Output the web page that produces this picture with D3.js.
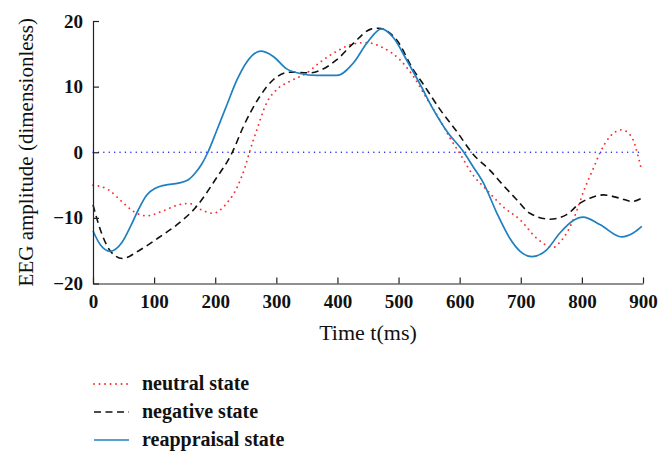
<!DOCTYPE html>
<html>
<head>
<meta charset="utf-8">
<script src="https://cdn.jsdelivr.net/npm/d3@7"></script>
<style>
  body { margin: 0; background: #fff; }
  svg { display: block; }
</style>
</head>
<body>
<svg id="chart" width="672" height="464"></svg>
<script>
// ---- data ----
const xTicks = [0, 100, 200, 300, 400, 500, 600, 700, 800, 900];
const yTicks = [-20, -10, 0, 10, 20];

const neutralT = [0, 25, 47, 66, 88, 113, 140, 157, 178, 196, 219, 236, 249, 256, 268, 284, 300, 322, 350, 370, 399, 426, 448, 475, 502, 524, 546, 566, 584, 599, 622, 644, 671, 699, 726, 753, 764, 777, 788, 803, 819, 830, 846, 865, 881, 892, 898];
const neutralV = [-5.0, -5.7, -7.5, -9.0, -9.7, -9.0, -8.0, -7.8, -8.8, -9.3, -7.75, -5.3, -2.2, 0, 3.4, 7.5, 9.5, 10.8, 12.1, 13.6, 15.4, 16.5, 16.7, 15.9, 14.1, 11.6, 8.2, 5.2, 2.2, 0, -3.5, -5.7, -8.3, -10.3, -13.1, -14.5, -13.7, -12.0, -9.8, -5.9, -2.4, 0, 2.4, 3.4, 2.4, -0.6, -2.9];

const negativeT = [0, 12, 28, 48, 75, 106, 138, 170, 200, 228, 246, 273, 295, 322, 355, 372, 399, 426, 456, 467, 497, 524, 541, 568, 595, 622, 650, 671, 693, 715, 748, 775, 797, 813, 835, 862, 882, 898];
const negativeV = [-8.0, -11.8, -15.0, -16.2, -15.0, -13.1, -11.0, -8.2, -4.2, 0, 3.9, 8.5, 11.05, 12.2, 12.1, 12.5, 14.1, 16.6, 18.8, 18.9, 17.1, 12.6, 10.3, 6.5, 3.2, -0.3, -2.8, -5.0, -7.2, -9.3, -10.2, -9.5, -7.75, -7.0, -6.5, -7.0, -7.5, -7.0];

const reappraisalT = [0, 12, 28, 47, 63, 74, 88, 102, 118, 140, 156, 167, 178, 188, 202, 219, 235, 252, 274, 295, 317, 339, 366, 399, 426, 448, 472, 492, 513, 535, 557, 579, 606, 622, 639, 661, 682, 699, 718, 742, 764, 786, 802, 830, 865, 884, 898];
const reappraisalV = [-12.0, -14.1, -15.1, -13.8, -11.0, -8.8, -6.5, -5.5, -5.0, -4.7, -4.2, -3.2, -1.8, 0, 3.2, 7.2, 10.9, 13.8, 15.4, 14.6, 12.7, 12.0, 11.7, 11.7, 13.6, 16.6, 18.8, 17.4, 14.1, 10.4, 6.5, 3.2, 0.1, -2.2, -4.7, -9.3, -13.1, -15.1, -15.9, -14.9, -12.3, -10.4, -9.9, -11.05, -12.9, -12.3, -11.3];

const seriesNames = ["neutral state", "negative state", "reappraisal state"];

// ---- setup ----
const svg = d3.select("#chart");
const x = d3.scaleLinear().domain([0, 900]).range([93, 643]);
const y = d3.scaleLinear().domain([-20, 20]).range([283.5, 21]);

const series = [
  { name: seriesNames[0], t: neutralT, v: neutralV, color: "#ff2a2a", dash: "0.1,5.4", width: 1.8, cap: "round" },
  { name: seriesNames[1], t: negativeT, v: negativeV, color: "#111", dash: "7,4.5", width: 1.6, cap: "butt" },
  { name: seriesNames[2], t: reappraisalT, v: reappraisalV, color: "#1f7fc0", dash: null, width: 1.7, cap: "butt" }
];

// zero reference line
svg.append("line")
  .attr("x1", x(0)).attr("x2", x(900))
  .attr("y1", y(0)).attr("y2", y(0))
  .attr("stroke", "#2020ff").attr("stroke-width", 1.4)
  .attr("stroke-dasharray", "0.1,5.3").attr("stroke-linecap", "round");

const line = d3.line().curve(d3.curveMonotoneX);

series.forEach(s => {
  const pts = s.t.map((t, i) => [x(t), y(s.v[i])]);
  svg.append("path")
    .attr("d", line(pts))
    .attr("fill", "none")
    .attr("stroke", s.color)
    .attr("stroke-width", s.width)
    .attr("stroke-linecap", s.cap)
    .attr("stroke-dasharray", s.dash);
});

// axes
const tickFont = "'Liberation Serif', 'Times New Roman', serif";
const xAxis = d3.axisBottom(x).tickValues(xTicks).tickSizeInner(-6).tickSizeOuter(0).tickPadding(12);
const yAxis = d3.axisLeft(y).tickValues(yTicks).tickSizeInner(-6).tickSizeOuter(0).tickPadding(12)
  .tickFormat(d => d < 0 ? "\u2212" + Math.abs(d) : d);

const gx = svg.append("g").attr("transform", `translate(0,${y(-20)})`).call(xAxis);
const gy = svg.append("g").attr("transform", `translate(${x(0)},0)`).call(yAxis);

[gx, gy].forEach(g => {
  g.select(".domain").attr("stroke", "#222").attr("stroke-width", 1.2);
  g.selectAll(".tick line").attr("stroke", "#222").attr("stroke-width", 1.2);
  g.selectAll(".tick text")
    .attr("fill", "#111")
    .style("font-family", tickFont)
    .style("font-weight", "bold")
    .style("font-size", "19px");
});
gx.selectAll(".tick text").attr("dy", "0.71em").attr("y", 11);
gy.selectAll(".tick text").attr("x", -10);

// axis titles
svg.append("text")
  .attr("x", x(450)).attr("y", 340)
  .attr("text-anchor", "middle")
  .style("font-family", tickFont).style("font-size", "22px").attr("fill", "#111")
  .text("Time t(ms)");

svg.append("text")
  .attr("transform", `translate(33,${y(0)}) rotate(-90)`)
  .attr("text-anchor", "middle")
  .style("font-family", tickFont).style("font-size", "21px").attr("fill", "#111")
  .text("EEG amplitude (dimensionless)");

// legend
const legendY = [384, 412, 440];
series.forEach((s, i) => {
  const g = svg.append("g");
  g.append("line")
    .attr("x1", 94).attr("x2", 129)
    .attr("y1", legendY[i]).attr("y2", legendY[i])
    .attr("stroke", s.color).attr("stroke-width", s.width)
    .attr("stroke-linecap", s.cap)
    .attr("stroke-dasharray", s.dash);
  g.append("text")
    .attr("x", 142).attr("y", legendY[i] + 5.5)
    .style("font-family", tickFont).style("font-weight", "bold").style("font-size", "20px")
    .attr("fill", "#111")
    .text(s.name);
});
</script>
</body>
</html>
